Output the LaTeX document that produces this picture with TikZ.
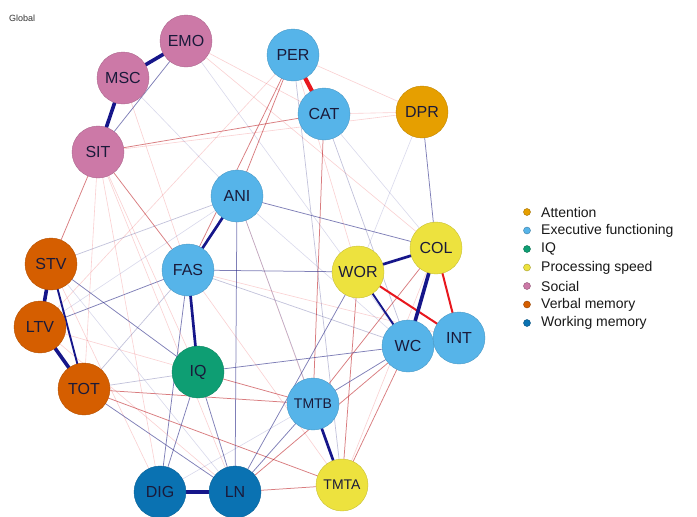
\documentclass[tikz,border=0pt]{standalone}
\usepackage{fontspec}
\setmainfont{Liberation Sans}
\usetikzlibrary{backgrounds}
\definecolor{cAtt}{HTML}{E69F00}
\definecolor{cExe}{HTML}{56B4E9}
\definecolor{cIQ}{HTML}{0E9E73}
\definecolor{cPro}{HTML}{EDE23E}
\definecolor{cSoc}{HTML}{CC79A7}
\definecolor{cVer}{HTML}{D55E00}
\definecolor{cWor}{HTML}{0A72B2}
\definecolor{posc}{HTML}{16168A}
\definecolor{negc}{HTML}{E8171D}
\definecolor{txtc}{HTML}{1A1A3A}
\tikzset{
  vnode/.style={circle, minimum size=52pt, inner sep=0pt, fill=#1, draw=#1!85!black, line width=0.4pt,
    text=txtc, font=\fontsize{16}{16}\selectfont},
  small/.style={font=\fontsize{14}{14}\selectfont},
  pA/.style={draw=posc, line width=3.6pt},
  pB/.style={draw=posc, line width=2.7pt},
  pC/.style={draw=posc, line width=1.9pt},
  pt/.style={draw=posc!80!gray, line width=0.75pt, draw opacity=0.6},
  pm/.style={draw=posc!70!gray, line width=0.7pt, draw opacity=0.3},
  pf/.style={draw=posc, line width=0.6pt, draw opacity=0.16},
  nA/.style={draw=negc, line width=4.2pt},
  nB/.style={draw=negc, line width=2.0pt},
  nt/.style={draw=negc!80!black, line width=0.75pt, draw opacity=0.55},
  nf/.style={draw=negc, line width=0.6pt, draw opacity=0.2},
  legdot/.style={circle, minimum size=7pt, inner sep=0pt, fill=#1, draw=#1!70!black, line width=0.4pt},
  legtxt/.style={anchor=west, inner sep=0pt, font=\fontsize{14}{14}\selectfont, text=black!90}
}
\begin{document}
\begin{tikzpicture}[x=1pt,y=-1pt]
\useasboundingbox (0,0) rectangle (697,517);
\node[anchor=west, inner sep=0pt, font=\fontsize{9}{9}\selectfont, text=black!80] (title) at (9,18) {Global};

% nodes
\node[vnode=cSoc] (EMO) at (186,41) {EMO};
\node[vnode=cSoc] (MSC) at (123,78) {MSC};
\node[vnode=cSoc] (SIT) at (98,152) {SIT};
\node[vnode=cExe] (PER) at (293,55) {PER};
\node[vnode=cExe] (CAT) at (324,114) {CAT};
\node[vnode=cAtt] (DPR) at (422,112) {DPR};
\node[vnode=cExe] (ANI) at (237,196) {ANI};
\node[vnode=cVer] (STV) at (51,264) {STV};
\node[vnode=cExe] (FAS) at (188,270) {FAS};
\node[vnode=cVer] (LTV) at (40,327) {LTV};
\node[vnode=cPro] (WOR) at (358,272) {WOR};
\node[vnode=cPro] (COL) at (436,248) {COL};
\node[vnode=cExe] (WC) at (408,346) {WC};
\node[vnode=cExe] (INT) at (459,338) {INT};
\node[vnode=cIQ] (IQ) at (198,372) {IQ};
\node[vnode=cVer] (TOT) at (84,389) {TOT};
\node[vnode=cExe, small] (TMTB) at (313,404) {TMTB};
\node[vnode=cPro, small] (TMTA) at (342,485) {TMTA};
\node[vnode=cWor] (DIG) at (160,492) {DIG};
\node[vnode=cWor] (LN) at (235,492) {LN};

\begin{scope}[on background layer]
\fill[white] (0,0) rectangle (697,517);
% faint red
\draw[nf] (CAT.center) -- (DPR.center);
\draw[nf] (PER.center) -- (DPR.center);
\draw[nf] (PER.center) -- (LTV.center);
\draw[nf] (SIT.center) -- (IQ.center);
\draw[nf] (SIT.center) -- (TOT.center);
\draw[nf] (SIT.center) -- (LN.center);
\draw[nf] (SIT.center) -- (DIG.center);
\draw[nf] (ANI.center) -- (TMTA.center);
\draw[nf] (FAS.center) -- (TMTA.center);
\draw[nf] (EMO.center) -- (COL.center);
\draw[nf] (MSC.center) -- (FAS.center);
\draw[nf] (STV.center) -- (DIG.center);
\draw[nf] (LTV.center) -- (IQ.center);
\draw[nf] (TMTA.center) -- (COL.center);
\draw[nf] (FAS.center) -- (INT.center);
\draw[nf] (LTV.center) -- (LN.center);
\draw[nf] (PER.center) -- (WOR.center);
\draw[nf] (EMO.center) -- (CAT.center);
\draw[nf] (SIT.center) -- (DPR.center);
% faint blue
\draw[pf] (EMO.center) -- (WC.center);
\draw[pf] (CAT.center) -- (COL.center);
\draw[pf] (DPR.center) -- (WOR.center);
\draw[pf] (ANI.center) -- (WC.center);
\draw[pf] (LTV.center) -- (ANI.center);
\draw[pf] (MSC.center) -- (ANI.center);
\draw[pf] (STV.center) -- (LN.center);
\draw[pf] (DIG.center) -- (TMTB.center);
% medium blue
\draw[pm] (STV.center) -- (ANI.center);
\draw[pm] (TOT.center) -- (IQ.center);
\draw[pm] (TOT.center) -- (FAS.center);
\draw[pm] (CAT.center) -- (WC.center);
\draw[pm] (ANI.center) -- (TMTB.center);
\draw[pm] (PER.center) -- (TMTA.center);
\draw[pm] (FAS.center) -- (WC.center);
% thin red
\draw[nt] (SIT.center) -- (CAT.center);
\draw[nt] (SIT.center) -- (FAS.center);
\draw[nt] (CAT.center) -- (TMTB.center);
\draw[nt] (SIT.center) -- (STV.center);
\draw[nt] (PER.center) -- (FAS.center);
\draw[nt] (PER.center) -- (ANI.center);
\draw[nt] (LN.center) -- (TMTA.center);
\draw[nt] (TOT.center) -- (TMTB.center);
\draw[nt] (IQ.center) -- (TMTB.center);
\draw[nt] (TMTA.center) -- (WC.center);
\draw[nt] (TMTB.center) -- (COL.center);
\draw[nt] (LN.center) -- (WC.center);
\draw[nt] (TOT.center) -- (TMTA.center);
\draw[nt] (WOR.center) -- (TMTA.center);
% thin blue
\draw[pt] (EMO.center) -- (SIT.center);
\draw[pt] (FAS.center) -- (WOR.center);
\draw[pt] (IQ.center) -- (WC.center);
\draw[pt] (DPR.center) -- (COL.center);
\draw[pt] (ANI.center) -- (COL.center);
\draw[pt] (FAS.center) -- (LTV.center);
\draw[pt] (STV.center) -- (IQ.center);
\draw[pt] (TOT.center) -- (LN.center);
\draw[pt] (FAS.center) -- (DIG.center);
\draw[pt] (IQ.center) -- (DIG.center);
\draw[pt] (IQ.center) -- (LN.center);
\draw[pt] (ANI.center) -- (LN.center);
\draw[pt] (LN.center) -- (WOR.center);
\draw[pt] (LN.center) -- (TMTB.center);
\draw[pt] (TMTB.center) -- (WC.center);
% strong
\draw[pC] (STV.center) -- (TOT.center);
\draw[pC] (WOR.center) -- (WC.center);
\draw[nB] (WOR.center) -- (INT.center);
\draw[nB] (COL.center) -- (INT.center);
\draw[pB] (ANI.center) -- (FAS.center);
\draw[pB] (FAS.center) -- (IQ.center);
\draw[pB] (TMTB.center) -- (TMTA.center);
\draw[pB] (WOR.center) -- (COL.center);
\draw[pA] (EMO.center) -- (MSC.center);
\draw[pA] (MSC.center) -- (SIT.center);
\draw[pA] (STV.center) -- (LTV.center);
\draw[pA] (LTV.center) -- (TOT.center);
\draw[pA] (DIG.center) -- (LN.center);
\draw[pA] (COL.center) -- (WC.center);
\draw[nA] (PER.center) -- (CAT.center);
\end{scope}

% legend
\node[legdot=cAtt] (d1) at (527,212) {};
\node[legtxt] (t1) at (541,212) {Attention};
\node[legdot=cExe] (d2) at (527,230.5) {};
\node[legtxt] (t2) at (541,230.5) {Executive functioning};
\node[legdot=cIQ] (d3) at (527,249) {};
\node[legtxt] (t3) at (541,249) {IQ};
\node[legdot=cPro] (d4) at (527,267.5) {};
\node[legtxt] (t4) at (541,267.5) {Processing speed};
\node[legdot=cSoc] (d5) at (527,286) {};
\node[legtxt] (t5) at (541,286) {Social};
\node[legdot=cVer] (d6) at (527,304.5) {};
\node[legtxt] (t6) at (541,304.5) {Verbal memory};
\node[legdot=cWor] (d7) at (527,323) {};
\node[legtxt] (t7) at (541,323) {Working memory};
\end{tikzpicture}
\end{document}
